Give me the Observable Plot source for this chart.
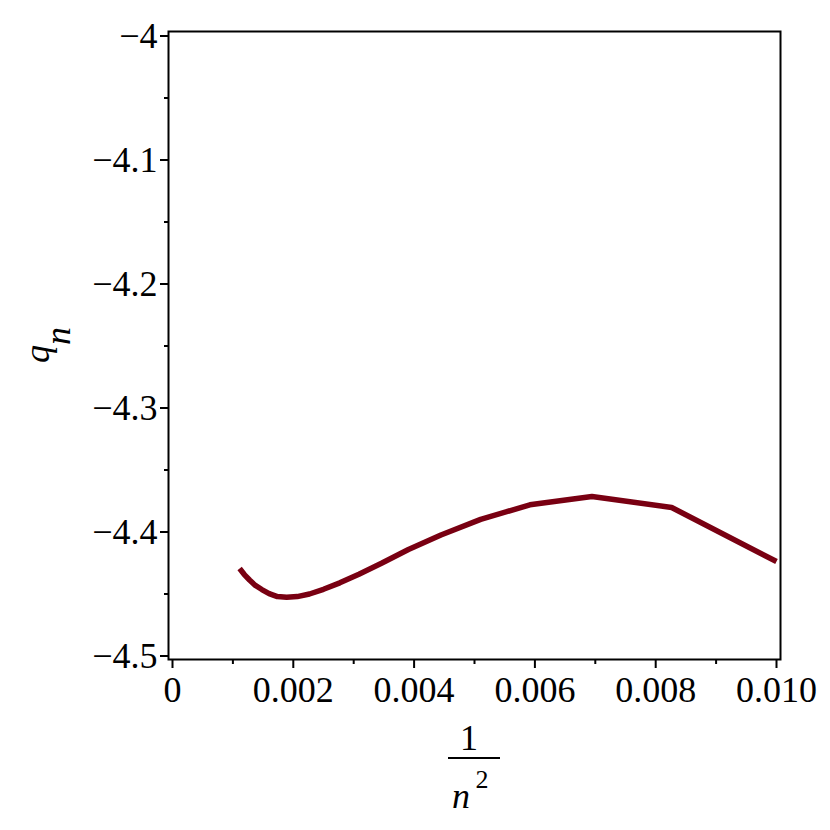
<!DOCTYPE html>
<html><head><meta charset="utf-8">
<script src="https://cdn.jsdelivr.net/npm/d3@7"></script>
<script src="https://cdn.jsdelivr.net/npm/@observablehq/plot@0.6"></script>
<style>body{margin:0;background:#fff;}</style>
</head><body><div id="chart"></div>
<script>
const nValues = [10,11,12,13,14,15,16,17,18,19,20,21,22,23,24,25,26,27,28,29,30];
const qValues = [-4.4238,-4.3802,-4.3714,-4.3781,-4.3898,-4.4024,-4.4141,-4.4252,-4.4340,-4.4410,-4.4462,
                 -4.4500,-4.4521,-4.4527,-4.4521,-4.4497,-4.4464,-4.4431,-4.4387,-4.4343,-4.4294];
const xMajorTicks = [0,0.002,0.004,0.006,0.008,0.010];
const xMinorTicks = [0.001,0.003,0.005,0.007,0.009];
const yMajorTicks = [-4,-4.1,-4.2,-4.3,-4.4,-4.5];
const yMinorTicks = [-4.05,-4.15,-4.25,-4.35,-4.45];

const data = nValues.map((n,i)=>({x:1/(n*n), q:qValues[i]}));
const curveColor = "#790012";
const ff = "\"Liberation Serif\", \"Times New Roman\", serif";

const chart = Plot.plot({
  width:830, height:830,
  marginLeft:168, marginRight:50, marginTop:31, marginBottom:171,
  style:{fontFamily:ff, fontSize:"36px", color:"black", background:"white"},
  x:{domain:[-0.0000662,0.0100662]},
  y:{domain:[-4.50282,-3.99637]},
  marks:[
    Plot.axisX(xMajorTicks,{tickSize:9, tickPadding:8, strokeWidth:2, label:null,
      tickFormat:d=>d===0?"0":d.toFixed(3)}),
    Plot.axisX(xMinorTicks,{tickSize:5, strokeWidth:2, label:null, tickFormat:()=>""}),
    Plot.axisY(yMajorTicks,{tickSize:8, tickPadding:3, strokeWidth:2, label:null,
      tickFormat:d=>"\u2212"+String(Math.abs(d))}),
    Plot.axisY(yMinorTicks,{tickSize:4, strokeWidth:2, label:null, tickFormat:()=>""}),
    Plot.frame({stroke:"black", strokeWidth:2}),
    Plot.line(data,{x:"x", y:"q", stroke:curveColor, strokeWidth:5.5, strokeLinecap:"butt", strokeLinejoin:"miter"})
  ]
});
document.getElementById("chart").append(chart);

const svg = d3.select(chart);
// x-axis label: fraction 1 / n^2
const gx = svg.append("g").attr("font-family", ff).attr("fill","black");
gx.append("text").attr("x",469).attr("y",750).attr("text-anchor","middle").attr("font-size",36).text("1");
gx.append("line").attr("x1",448).attr("x2",500).attr("y1",758).attr("y2",758).attr("stroke","black").attr("stroke-width",2);
gx.append("text").attr("x",461).attr("y",808).attr("text-anchor","middle").attr("font-size",36).attr("font-style","italic").text("n");
gx.append("text").attr("x",482).attr("y",788).attr("text-anchor","middle").attr("font-size",26).text("2");
// y-axis label: q_n
const gy = svg.append("g").attr("font-family", ff).attr("fill","black")
  .attr("transform","translate(49,345) rotate(-90)");
const t = gy.append("text").attr("text-anchor","middle").attr("font-size",36).attr("font-style","italic");
t.append("tspan").text("q");
t.append("tspan").attr("dy",21).text("n");
</script>
</body></html>
